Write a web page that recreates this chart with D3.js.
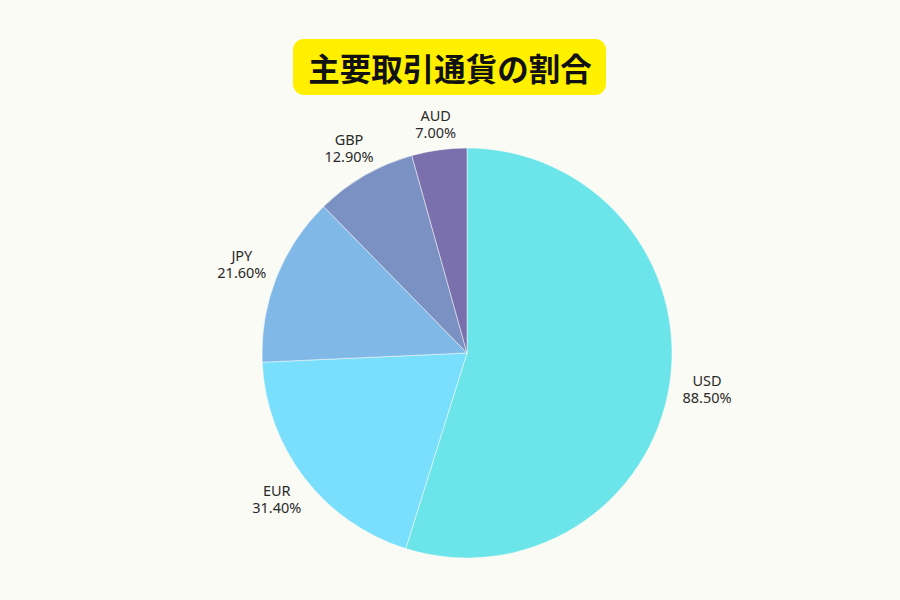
<!DOCTYPE html>
<html>
<head>
<meta charset="utf-8">
<script src="https://cdn.jsdelivr.net/npm/d3@7"></script>
<style>
html,body{margin:0;padding:0;background:#fbfbf5;}
svg{display:block;}
</style>
</head>
<body>
<svg id="chart" width="900" height="600"></svg>
<script>
const title = "主要取引通貨の割合";
const categories = ["USD", "EUR", "JPY", "GBP", "AUD"];
const values = [88.5, 31.4, 21.6, 12.9, 7.0];
const colors = ["#6be5ea", "#7adffc", "#80b9e8", "#7b91c3", "#7a70ae"];

const W = 900, H = 600;
const cx = 467, cy = 353, R = 205;
const fontSize = 14.5, lineH = 17;
const svg = d3.select("#chart");
svg.append("rect").attr("width", W).attr("height", H).attr("fill", "#fbfbf5");

// title
const tg = svg.append("g");
tg.append("rect").attr("x", 293).attr("y", 39).attr("width", 313).attr("height", 56)
  .attr("rx", 11).attr("fill", "#fff000");
tg.append("text").attr("x", 450).attr("y", 67).attr("text-anchor", "middle")
  .attr("dominant-baseline", "central")
  .attr("font-family", "'Noto Sans CJK JP', sans-serif").attr("font-weight", 700)
  .attr("font-size", 31.5).attr("fill", "#111").text(title);

const data = categories.map((c, i) => ({cat: c, value: values[i], color: colors[i]}));
const pie = d3.pie().value(d => d.value).sort(null);
const arc = d3.arc().innerRadius(0).outerRadius(R);
const arcs = pie(data);

const g = svg.append("g").attr("transform", `translate(${cx},${cy})`);
g.selectAll("path").data(arcs).join("path")
  .attr("d", arc).attr("fill", d => d.data.color)
  .attr("stroke", "#fbfbf5").attr("stroke-width", 0.5);

const lab = g.selectAll("text.lbl").data(arcs).join("text").attr("class", "lbl")
  .attr("text-anchor", "middle")
  .attr("font-family", "'Noto Sans', 'Open Sans', sans-serif")
  .attr("font-size", fontSize).attr("fill", "#2a2a2a");
lab.append("tspan").attr("x", 0).attr("y", -lineH / 2 + 5).text(d => d.data.cat);
lab.append("tspan").attr("x", 0).attr("y", lineH / 2 + 5).text(d => d.data.value.toFixed(2) + "%");

// label block centred on the slice's mid-angle ray, pushed further out for sideways labels
lab.attr("transform", d => {
  const a = (d.startAngle + d.endAngle) / 2;
  const vx = Math.sin(a), vy = -Math.cos(a);
  const r = R + 24 + 14 * Math.abs(vx);
  return `translate(${r * vx},${r * vy})`;
});
</script>
</body>
</html>
